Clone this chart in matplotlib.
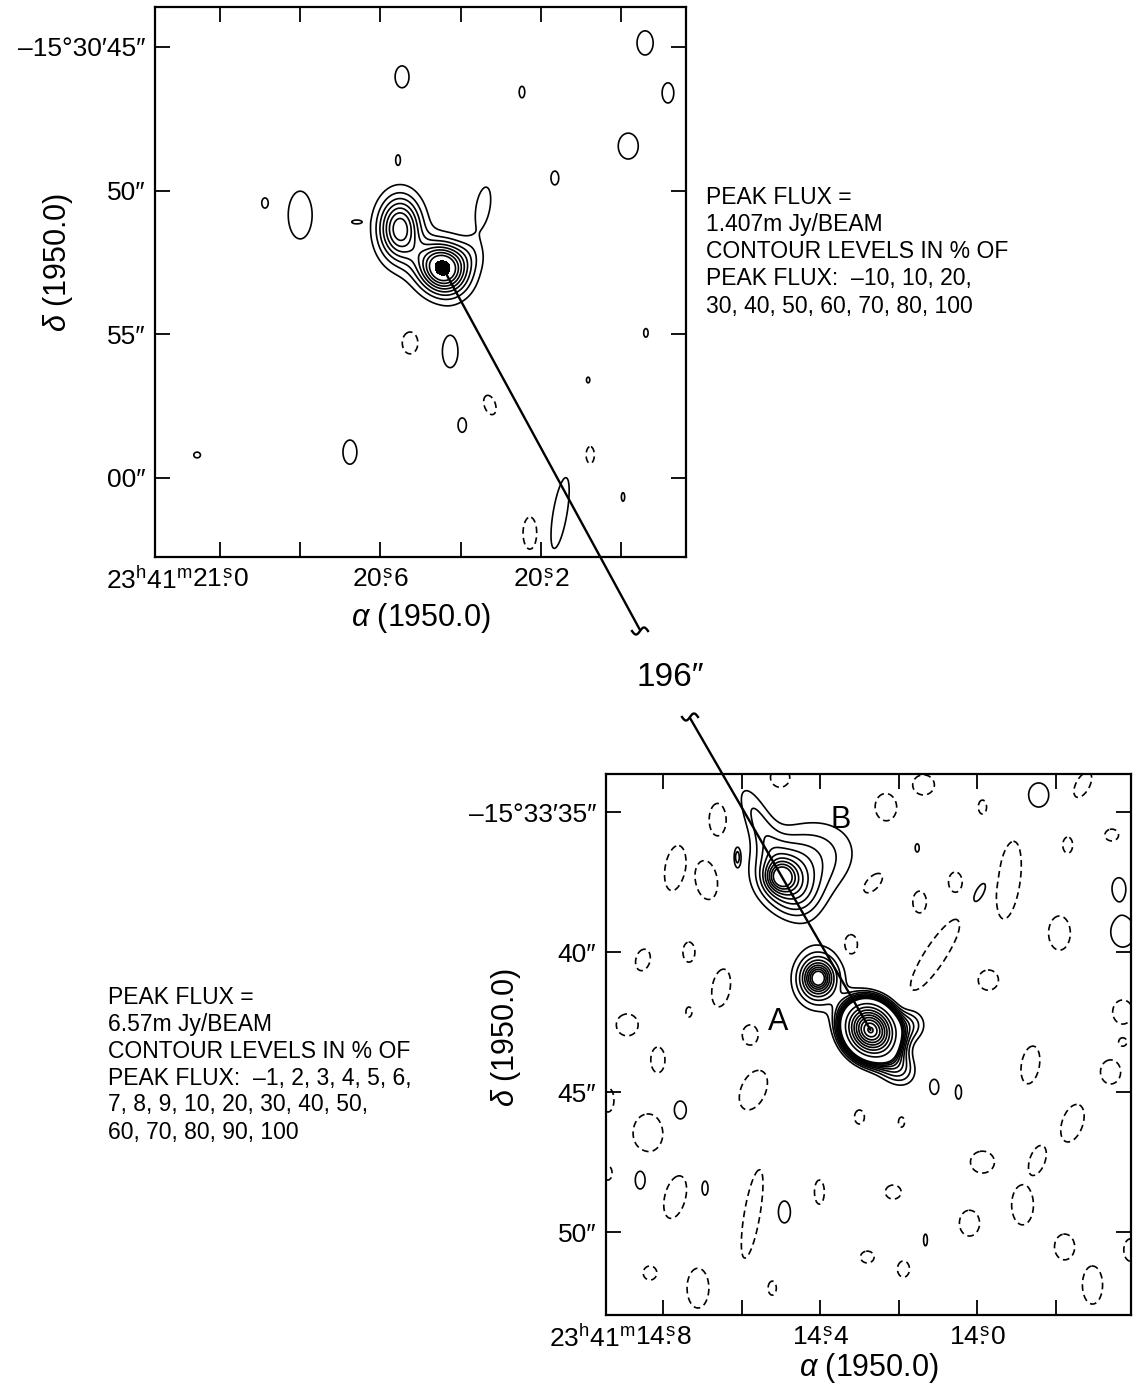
import numpy as np
import matplotlib.pyplot as plt
from matplotlib.patches import ConnectionPatch
from matplotlib.lines import Line2D

plt.rcParams['font.family'] = ['Liberation Sans', 'DejaVu Sans']
plt.rcParams['mathtext.fontset'] = 'custom'
plt.rcParams['mathtext.rm'] = 'Liberation Sans'
plt.rcParams['mathtext.it'] = 'Liberation Sans:italic'

# arcsec of sky per second of RA at dec -15.5
ARCSEC_PER_S = 15 * np.cos(np.radians(15.55))

# ---------------- top map: RA = 23h41m + s, Dec = -15d30m + arcsec ----------------
top_xlim = (21.162, 19.838)
top_ylim = (62.75, 43.61)
top_xticks = [21.0, 20.8, 20.6, 20.4, 20.2, 20.0]
top_xlabels = ['21.0', '', '20.6', '', '20.2', '']
top_yticks = [45, 50, 55, 60]
top_ylabels = ['\u201315\u00b030\u203245\u2033', '50\u2033', '55\u2033', '00\u2033']
top_levels_neg = [-0.10]
top_levels_pos = [0.10, 0.20, 0.30, 0.40, 0.50, 0.60, 0.70, 0.80, 0.975]

# ra, dec, amplitude (fraction of peak), sigma_a, sigma_b (arcsec), pa (deg)
top_sources = [
    (20.444, 52.69, 1.00, 0.62, 0.55, -45),
    (20.551, 51.30, 0.76, 0.52, 0.75, 0),
    (20.381, 52.24, 0.13, 0.45, 0.45, 0),
    (20.501, 52.59, 0.08, 1.00, 0.50, -45),
]
# noise islands: ra, dec, contour semi-axes a, b (arcsec), pa
top_pos_noise = [
    (19.940, 44.86, 0.29, 0.42, 0), (20.546, 46.04, 0.25, 0.38, 0),
    (20.247, 46.57, 0.10, 0.20, 0), (19.883, 46.60, 0.21, 0.35, 0),
    (19.982, 48.45, 0.36, 0.45, 0), (20.556, 48.93, 0.08, 0.17, 0),
    (20.165, 49.56, 0.14, 0.24, 0), (20.888, 50.43, 0.11, 0.17, 0),
    (20.800, 50.85, 0.43, 0.83, 0), (20.344, 50.57, 0.70, 0.25, 80),
    (20.660, 51.09, 0.16, 0.06, 0), (20.426, 55.60, 0.28, 0.56, 0),
    (19.938, 54.95, 0.08, 0.15, 0), (20.082, 56.59, 0.06, 0.10, 0),
    (20.396, 58.16, 0.15, 0.25, 0), (20.676, 59.10, 0.25, 0.42, 0),
    (21.057, 59.20, 0.12, 0.10, 0), (19.995, 60.66, 0.06, 0.15, 0),
    (20.152, 61.22, 1.25, 0.25, 80),
]
top_neg_noise = [
    (20.526, 55.30, 0.28, 0.38, 0), (20.327, 57.46, 0.20, 0.35, 20),
    (20.077, 59.20, 0.15, 0.30, 0), (20.227, 61.92, 0.25, 0.56, 0),
]

# ---------------- bottom map: RA = 23h41m + s, Dec = -15d33m + arcsec ----------------
bot_xlim = (14.945, 13.609)
bot_ylim = (52.96, 33.64)
bot_xticks = [14.8, 14.6, 14.4, 14.2, 14.0, 13.8]
bot_xlabels = ['14.8', '', '14.4', '', '14.0', '']
bot_yticks = [35, 40, 45, 50]
bot_ylabels = ['\u201315\u00b033\u203235\u2033', '40\u2033', '45\u2033', '50\u2033']
bot_levels_neg = [-0.01]
bot_levels_pos = [0.02, 0.03, 0.04, 0.05, 0.06, 0.07, 0.08, 0.09, 0.10,
                  0.20, 0.30, 0.40, 0.50, 0.60, 0.70, 0.80, 0.90, 0.985]

bot_sources = [
    (14.272, 42.78, 1.00, 0.55, 0.48, -50),   # bright core
    (14.209, 44.03, 0.050, 0.60, 0.45, -45),
    (14.170, 42.60, 0.035, 0.45, 0.45, 0),
    (14.405, 40.93, 0.040, 0.25, 0.27, 0),    # A
    (14.405, 40.93, 0.040, 0.45, 0.50, 0),
    (14.405, 40.97, 0.040, 0.75, 0.88, 0),
    (14.502, 37.32, 0.050, 0.35, 0.35, 0),    # B
    (14.477, 37.60, 0.045, 0.90, 0.65, -60),
    (14.438, 36.75, 0.040, 1.50, 1.10, 20),
    (14.565, 35.10, 0.028, 1.10, 0.40, 115),
]
bot_pos_noise = [
    (14.611, 36.60, 0.07, 0.21, 0), (13.844, 34.39, 0.37, 0.43, 0),
    (14.153, 36.28, 0.07, 0.14, 0), (13.995, 37.89, 0.40, 0.15, 60),
    (13.630, 39.28, 0.44, 0.54, 0), (13.640, 37.68, 0.22, 0.32, 0),
    (14.756, 45.64, 0.22, 0.32, 0), (14.858, 48.14, 0.18, 0.32, 0),
    (14.693, 48.43, 0.11, 0.25, 0), (14.491, 49.28, 0.22, 0.39, 0),
    (14.109, 44.82, 0.15, 0.25, 0), (14.048, 45.00, 0.11, 0.25, 0),
    (14.132, 50.28, 0.07, 0.21, 0),
]
bot_neg_noise = [
    (14.660, 35.28, 0.33, 0.61, 0), (14.769, 37.00, 0.82, 0.37, 80),
    (14.688, 37.43, 0.75, 0.44, 100), (14.502, 33.78, 0.37, 0.36, 0),
    (14.323, 39.75, 0.29, 0.43, 0), (14.851, 40.28, 0.39, 0.26, 75),
    (14.734, 40.00, 0.22, 0.36, 0), (14.652, 41.28, 0.68, 0.33, 80),
    (14.891, 42.60, 0.40, 0.39, 0), (14.578, 42.96, 0.29, 0.36, 0),
    (14.267, 37.53, 0.55, 0.29, 45), (14.734, 42.14, 0.11, 0.18, 0),
    (14.234, 34.85, 0.44, 0.54, 0), (14.137, 34.03, 0.40, 0.36, 0),
    (13.987, 34.82, 0.15, 0.25, 0), (13.732, 34.03, 0.50, 0.25, 60),
    (13.658, 35.82, 0.25, 0.21, 0), (13.770, 36.18, 0.18, 0.29, 0),
    (13.920, 37.43, 1.40, 0.42, 82), (14.056, 37.50, 0.25, 0.36, 0),
    (14.147, 38.21, 0.25, 0.39, 0), (14.107, 40.10, 1.55, 0.38, 56),
    (13.791, 39.32, 0.40, 0.61, 0), (13.972, 41.00, 0.37, 0.36, 0),
    (13.630, 42.14, 0.37, 0.43, 0), (14.813, 43.85, 0.26, 0.46, 0),
    (14.570, 44.93, 0.75, 0.45, 65), (14.940, 45.28, 0.22, 0.43, 0),
    (14.838, 46.46, 0.55, 0.68, 0), (14.300, 45.89, 0.18, 0.25, 0),
    (14.940, 47.89, 0.15, 0.25, 0), (14.769, 48.75, 0.78, 0.38, 75),
    (14.573, 49.35, 1.60, 0.29, 80), (14.402, 48.57, 0.18, 0.43, 0),
    (14.280, 50.89, 0.25, 0.21, 0), (14.833, 51.46, 0.25, 0.25, 0),
    (14.711, 52.00, 0.40, 0.71, 0), (14.522, 52.00, 0.15, 0.25, 0),
    (13.865, 44.03, 0.68, 0.33, 80), (13.661, 44.28, 0.37, 0.43, 0),
    (14.193, 46.07, 0.11, 0.18, 0), (13.758, 46.11, 0.70, 0.38, 70),
    (13.987, 47.50, 0.44, 0.39, 0), (13.847, 47.43, 0.55, 0.28, 70),
    (14.214, 48.57, 0.29, 0.25, 0), (13.885, 49.03, 0.40, 0.71, 0),
    (14.020, 49.68, 0.37, 0.46, 0), (14.188, 51.32, 0.22, 0.29, 0),
    (13.778, 50.53, 0.37, 0.46, 0), (13.707, 51.89, 0.37, 0.68, 0),
    (13.610, 50.64, 0.25, 0.40, 0), (13.630, 43.21, 0.15, 0.15, 0),
]

top_text = ['PEAK FLUX =', '1.407m Jy/BEAM', 'CONTOUR LEVELS IN % OF',
            'PEAK FLUX:  \u201310, 10, 20,', '30, 40, 50, 60, 70, 80, 100']
bot_text = ['PEAK FLUX =', '6.57m Jy/BEAM', 'CONTOUR LEVELS IN % OF',
            'PEAK FLUX:  \u20131, 2, 3, 4, 5, 6,', '7, 8, 9, 10, 20, 30, 40, 50,',
            '60, 70, 80, 90, 100']
separation = '196\u2033'


def islands(lst, amp, level):
    k = np.sqrt(2 * np.log(amp / level))
    return [(r, d, amp, a / k, b / k, pa) for r, d, a, b, pa in lst]


def field(ra, dec, comps):
    X, Y = np.meshgrid(ra, dec)
    z = np.zeros_like(X)
    for r0, d0, amp, sa, sb, pa in comps:
        dx = -(X - r0) * ARCSEC_PER_S
        dy = -(Y - d0)
        t = np.radians(pa)
        u = dx * np.cos(t) + dy * np.sin(t)
        v = -dx * np.sin(t) + dy * np.cos(t)
        z += amp * np.exp(-0.5 * ((u / sa) ** 2 + (v / sb) ** 2))
    return z


def ra_label(s):
    if not s:
        return ''
    a, b = s.split('.')
    return r'$\mathrm{%s\overset{s}{.}%s}$' % (a, b)


def setup(ax, xlim, ylim, xt, xl, yt, yl):
    ax.set_xlim(*xlim)
    ax.set_ylim(*ylim)
    ax.set_xticks(xt)
    ax.set_xticklabels([ra_label(s) for s in xl])
    ax.set_yticks(yt)
    ax.set_yticklabels(yl)
    ax.tick_params(direction='in', length=11, width=1.3, top=True, right=True,
                   labelsize=19, pad=7)
    for sp in ax.spines.values():
        sp.set_linewidth(1.6)


def draw_map(ax, xlim, ylim, comps, neg, pos):
    ra = np.linspace(xlim[0], xlim[1], 600)
    dec = np.linspace(ylim[1], ylim[0], 700)
    z = field(ra, dec, comps)
    ax.contour(ra, dec, z, levels=neg, colors='k', linewidths=1.2,
               linestyles=[(0, (4, 2.5))])
    ax.contour(ra, dec, z, levels=pos, colors='k', linewidths=1.2,
               linestyles='solid')
    return ra, dec, z


W, H = 1134, 1391
fig = plt.figure(figsize=(W / 100, H / 100), dpi=100)


def fx(px):
    return px / W


def fy(py):
    return 1 - py / H


ax1 = fig.add_axes([fx(155), fy(557), fx(686) - fx(155), fy(7) - fy(557)])
ax2 = fig.add_axes([fx(606), fy(1315), fx(1131) - fx(606), fy(774) - fy(1315)])

top_comps = (top_sources + islands(top_pos_noise, 0.15, 0.10)
             + islands(top_neg_noise, -0.20, -0.10))
bot_comps = (bot_sources + islands(bot_pos_noise, 0.027, 0.02)
             + islands(bot_neg_noise, -0.03, -0.01))

ra1, dec1, z1 = draw_map(ax1, top_xlim, top_ylim, top_comps, top_levels_neg, top_levels_pos)
ax1.contourf(ra1, dec1, z1, levels=[0.96, 2.0], colors='k')
draw_map(ax2, bot_xlim, bot_ylim, bot_comps, bot_levels_neg, bot_levels_pos)

setup(ax1, top_xlim, top_ylim, top_xticks, top_xlabels, top_yticks, top_ylabels)
setup(ax2, bot_xlim, bot_ylim, bot_xticks, bot_xlabels, bot_yticks, bot_ylabels)

# hours/minutes prefix in front of the first RA label
for ax, xt in [(ax1, top_xticks[0]), (ax2, bot_xticks[0])]:
    ax.annotate(r'$\mathrm{23^{h}41^{m}}$', xy=(xt, 0),
                xycoords=('data', 'axes fraction'), xytext=(-20, -7),
                textcoords='offset points', ha='right', va='top', fontsize=19)

for ax, xly, ylx, yly in [(ax1, -0.080, -0.150, 0.536), (ax2, -0.066, -0.158, 0.514)]:
    ax.set_xlabel(r'$\mathit{\alpha}$ (1950.0)', fontsize=22)
    ax.set_ylabel(r'$\mathit{\delta}$ (1950.0)', fontsize=22)
    ax.xaxis.set_label_coords(0.5, xly)
    ax.yaxis.set_label_coords(ylx, yly)

# line joining the two maps, with the break
s2 = top_sources[0]
core = bot_sources[0]
fig.add_artist(ConnectionPatch(xyA=(s2[0], s2[1]), coordsA=ax1.transData,
                               xyB=(fx(640), fy(630)), coordsB=fig.transFigure,
                               color='k', lw=1.7))
fig.add_artist(ConnectionPatch(xyA=(fx(690), fy(718)), coordsA=fig.transFigure,
                               xyB=(core[0], core[1]), coordsB=ax2.transData,
                               color='k', lw=1.7))
tt = np.linspace(-1, 1, 40)
for cx, cy in [(640, 631), (690, 717)]:
    fig.add_artist(Line2D(fx(cx + 8 * tt), fy(cy - 3.5 * np.sin(np.pi * tt)),
                          transform=fig.transFigure, color='k', lw=1.7))
fig.text(fx(670), fy(678), separation, fontsize=24, ha='center', va='center')

ax2.text(14.507, 42.5, 'A', fontsize=22, ha='center', va='center')
ax2.text(14.349, 35.3, 'B', fontsize=22, ha='center', va='center')

for i, line in enumerate(top_text):
    fig.text(fx(706), fy(198 + 27 * i), line, fontsize=16.5, va='center')
for i, line in enumerate(bot_text):
    fig.text(fx(108), fy(997 + 27 * i), line, fontsize=16.5, va='center')

fig.savefig('out.png', dpi=100)
